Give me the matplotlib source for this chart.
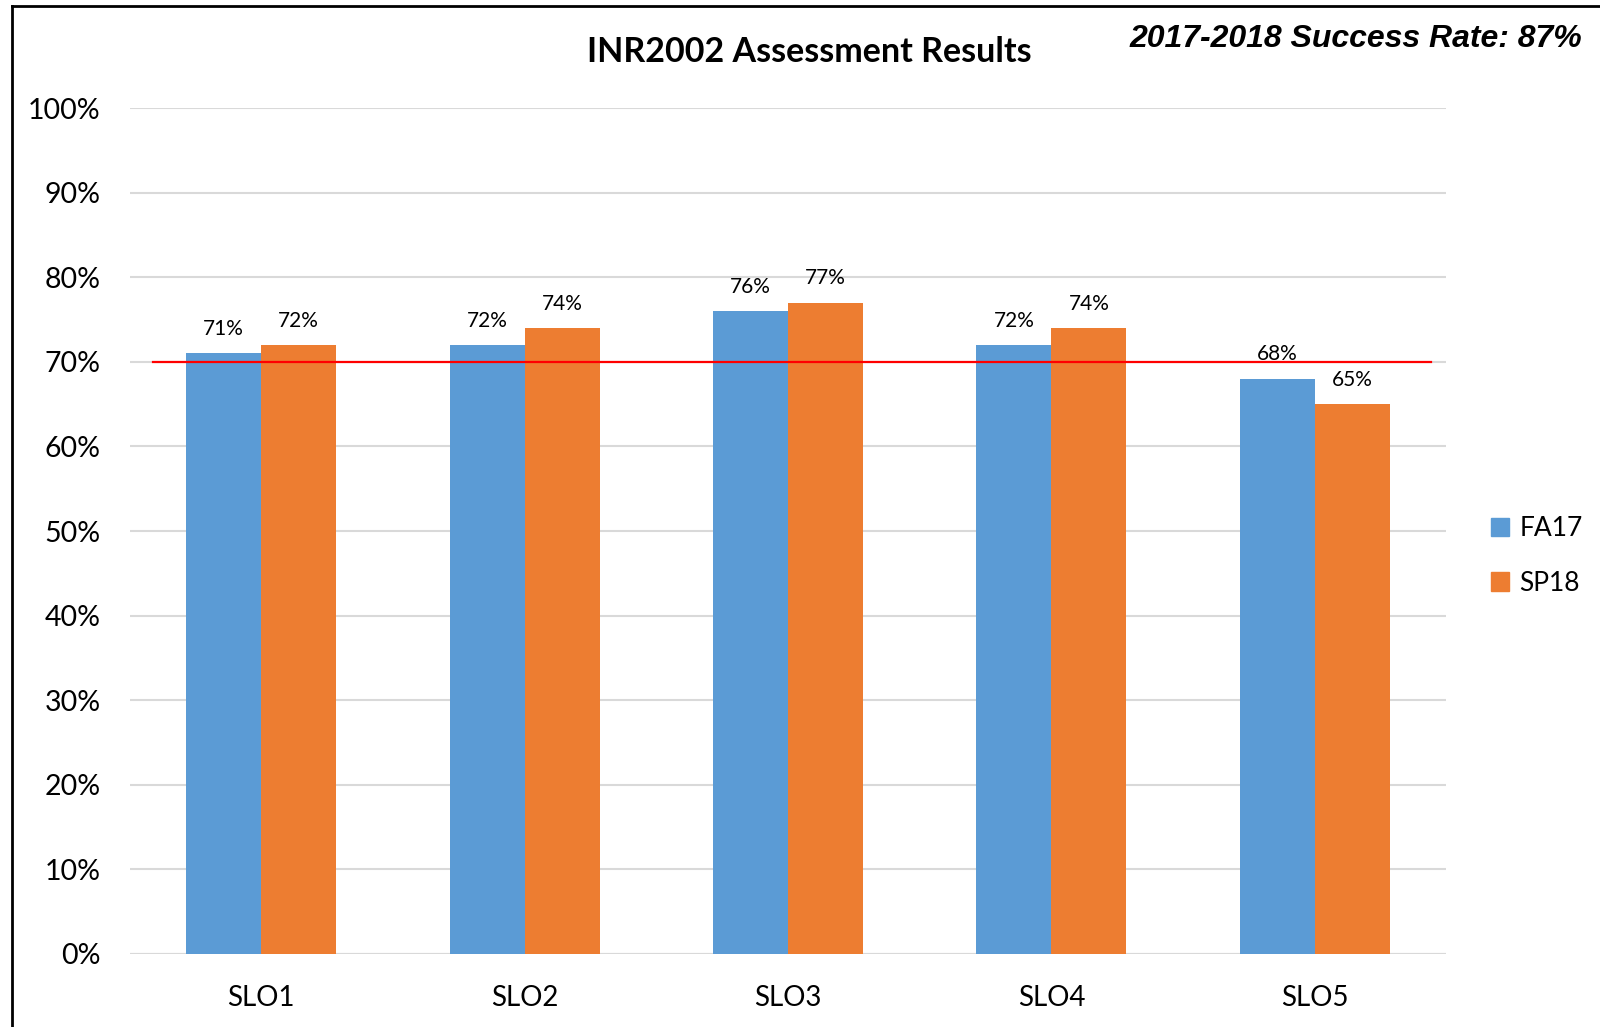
import matplotlib
matplotlib.use("Agg")
import matplotlib.pyplot as plt
from matplotlib.lines import Line2D
from matplotlib.patches import Patch
import numpy as np

categories = ["SLO1", "SLO2", "SLO3", "SLO4", "SLO5"]
fa17 = [71, 72, 76, 72, 68]
sp18 = [72, 74, 77, 74, 65]
series_names = ["FA17", "SP18"]
target = 70
yticks = list(range(0, 101, 10))
title = "INR2002 Assessment Results"
subtitle = "2017-2018 Success Rate: 87%"

BLUE = "#5B9BD5"
ORANGE = "#ED7D31"
FONT = ["Lato", "DejaVu Sans"]

fig = plt.figure(figsize=(16, 10.27), dpi=100)
ax = fig.add_axes([0.081, 0.0711, 0.823, 0.8237])

x = np.arange(len(categories))
w = 0.285
b1 = ax.bar(x - w / 2, fa17, w, color=BLUE, zorder=3)
b2 = ax.bar(x + w / 2, sp18, w, color=ORANGE, zorder=3)

for rects, vals in ((b1, fa17), (b2, sp18)):
    for r, v in zip(rects, vals):
        ax.text(r.get_x() + r.get_width() / 2, v + 1.7, f"{v}%", ha="center",
                va="bottom", fontsize=15, family=FONT, color="#000000", zorder=5)

ax.plot([-0.41, 4.443], [target, target], color="#FF0000", lw=1.6, zorder=4)

ax.set_xlim(-0.5, 4.5)
ax.set_ylim(0, 100)
ax.set_yticks(yticks)
ax.set_yticklabels([f"{t}%" for t in yticks], family=FONT, fontsize=20.5)
ax.set_xticks(x)
ax.set_xticklabels(categories, family=FONT, fontsize=20)
ax.tick_params(axis="both", length=0)
ax.tick_params(axis="y", pad=21)
ax.tick_params(axis="x", pad=22)
ax.grid(axis="y", color="#D9D9D9", lw=1.5, zorder=0)
for s in ax.spines.values():
    s.set_visible(False)
ax.axhline(0, color="#D9D9D9", lw=1.5, zorder=2)

fig.text(809 / 1600, 1 - 52 / 1027, title, ha="center", va="center",
         fontsize=24.5, fontweight="bold", family=FONT)
fig.text(1582 / 1600, 1 - 39 / 1027, subtitle, ha="right", va="center",
         fontsize=23, fontweight="bold", fontstyle="italic",
         family=["Liberation Sans", "DejaVu Sans"])

handles = [Patch(color=BLUE), Patch(color=ORANGE)]
leg = fig.legend(handles, series_names, loc="center left",
                 bbox_to_anchor=(1480 / 1600, 1 - 556 / 1027), frameon=False,
                 prop={"family": FONT, "size": 19}, handlelength=0.7,
                 handleheight=0.7, handletextpad=0.4, labelspacing=1.1,
                 borderaxespad=0)

fig.add_artist(Line2D([12 / 1600, 12 / 1600], [0, 1 - 6 / 1027],
                      transform=fig.transFigure, color="black", lw=2))
fig.add_artist(Line2D([12 / 1600, 1], [1 - 6 / 1027, 1 - 6 / 1027],
                      transform=fig.transFigure, color="black", lw=2))

fig.savefig("out.png", dpi=100, facecolor="white")
